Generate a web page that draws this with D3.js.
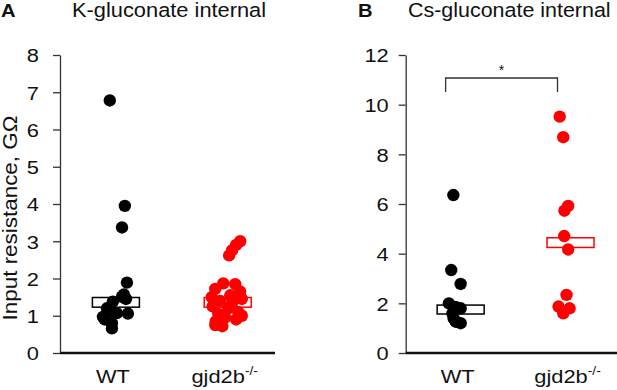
<!DOCTYPE html>
<html>
<head>
<meta charset="utf-8">
<script src="https://cdn.jsdelivr.net/npm/d3@7"></script>
<style>
body { margin: 0; background: #fff; }
text { font-family: "Liberation Sans", Arial, sans-serif; fill: #111; }
</style>
</head>
<body>
<div id="chart"></div>
<script>
// categories
var groups = ["WT", "gjd2b"];

// panel A, K-gluconate internal, input resistance in GΩ
var kWT = [6.78, 3.95, 3.37, 1.89, 1.57, 1.51, 1.45, 1.38, 1.2, 1.12, 1.07, 1.06, 0.97, 0.9, 0.8, 0.66];
var kWTJitter = [-0.26, 0.38, 0.26, 0.47, 0.34, 0.26, 0.43, -0.13, -0.38, -0.26, 0.04, 0.51, -0.55, -0.47, -0.17, -0.17];
var kKO = [3.0, 2.9, 2.76, 2.62, 1.87, 1.85, 1.72, 1.65, 1.55, 1.5, 1.45, 1.4, 1.35, 1.25, 1.2, 1.1, 1.05, 1.0, 0.95, 0.9, 0.85, 0.75, 0.72];
var kKOJitter = [0.53, 0.36, 0.19, 0.06, -0.19, 0.32, -0.53, 0.53, 0.11, -0.68, 0.6, -0.32, 0.19, -0.64, 0.02, 0.45, -0.4, 0.6, -0.11, 0.36, -0.51, -0.53, -0.23];
var kBoxLow = [1.23, 1.23];
var kBoxHigh = [1.49, 1.49];
var kTicks = [0, 1, 2, 3, 4, 5, 6, 7, 8];

// panel B, Cs-gluconate internal
var csWT = [6.36, 3.34, 2.78, 2.0, 1.85, 1.8, 1.6, 1.4, 1.26, 1.2];
var csWTJitter = [-0.31, -0.4, 0, -0.5, -0.21, 0, -0.35, -0.3, -0.21, 0];
var csKO = [9.52, 8.69, 5.92, 5.73, 4.71, 4.17, 2.34, 1.87, 1.8, 1.6];
var csKOJitter = [-0.46, -0.31, -0.1, -0.26, -0.27, -0.1, -0.17, -0.51, -0.04, -0.31];
var csBoxLow = [1.57, 4.25];
var csBoxHigh = [1.93, 4.64];
var csTicks = [0, 2, 4, 6, 8, 10, 12];

var W = 617, H = 390;
var S = 1.15; // lettering in the figure is wider than Arial
var colors = {WT: "#000", gjd2b: "#ff0000"};
var boxHalf = 23.5, dotR = 6.2;

var svg = d3.select("#chart").append("svg")
    .attr("width", W)
    .attr("height", H);

function wideText(parent, x, y, str, size, anchor, rot, sx) {
    var g = parent.append("g")
        .attr("transform", "translate(" + x + "," + y + ")" + (rot ? " rotate(" + rot + ")" : ""));
    return g.append("text")
        .attr("transform", "scale(" + (sx || S) + ",1)")
        .attr("text-anchor", anchor || "start")
        .attr("font-size", size + "px")
        .text(str);
}

function drawPanel(p) {
    var g = svg.append("g");
    var x = d3.scalePoint().domain(groups)
        .range([p.left + 0.26 * (p.right - p.left), p.left + 0.78 * (p.right - p.left)]);
    var y = d3.scaleLinear().domain([0, d3.max(p.ticks)]).range([p.bottom, p.top]);

    // letter + title
    wideText(g, p.letterX, 17, p.letter, 17.5).attr("font-weight", "bold");
    wideText(g, p.titleX, 17, p.title, 19.5, "start", 0, p.titleS);

    // y axis
    var ya = g.append("g")
        .attr("transform", "translate(" + p.left + ",0)")
        .call(d3.axisLeft(y).tickValues(p.ticks).tickSizeInner(7).tickSizeOuter(0).tickPadding(p.pad));
    ya.select(".domain").attr("stroke", "#333").attr("stroke-width", 1.3);
    ya.selectAll(".tick line").attr("stroke", "#333").attr("stroke-width", 1.3);
    ya.selectAll(".tick text")
        .attr("font-size", "19px")
        .attr("font-family", null)
        .attr("fill", "#111")
        .attr("dy", "0.36em")
        .each(function () {
            var t = d3.select(this), x0 = +t.attr("x");
            t.attr("x", 0).attr("transform", "translate(" + x0 + ",0) scale(" + S + ",1)");
        });

    // x axis (no ticks, heavy line)
    g.append("line")
        .attr("x1", p.left).attr("x2", p.right)
        .attr("y1", y(0)).attr("y2", y(0))
        .attr("stroke", "#111").attr("stroke-width", 2.6);

    // category labels
    groups.forEach(function (grp) {
        var t = wideText(g, x(grp) - 3, 383, "", 19, "middle");
        t.append("tspan").text(grp);
        if (grp !== "WT") {
            t.append("tspan").attr("font-size", "12px").attr("dy", "-0.65em").text("-/-");
        }
    });

    // boxes
    groups.forEach(function (grp, i) {
        g.append("rect")
            .attr("x", x(grp) - boxHalf)
            .attr("width", boxHalf * 2)
            .attr("y", y(p.boxHigh[i]))
            .attr("height", y(p.boxLow[i]) - y(p.boxHigh[i]))
            .attr("fill", "#fff")
            .attr("stroke", colors[grp])
            .attr("stroke-width", 1.5);
    });

    // dots
    var jx = d3.scaleLinear().domain([-1, 1]).range([-boxHalf, boxHalf]);
    [p.wt, p.ko].forEach(function (vals, i) {
        var grp = groups[i], jit = i === 0 ? p.wtJ : p.koJ;
        g.selectAll(".dot-" + grp)
            .data(vals)
            .enter().append("circle")
            .attr("class", "dot-" + grp)
            .attr("cx", function (d, k) { return x(grp) + jx(jit[k]); })
            .attr("cy", function (d) { return y(d); })
            .attr("r", dotR)
            .attr("fill", colors[grp]);
    });

    // significance bracket
    if (p.sig) {
        var bx1 = x(groups[0]) - 15, bx2 = x(groups[1]) - 13, by = 78;
        g.append("path")
            .attr("d", "M" + bx1 + "," + (by + 14) + "V" + by + "H" + bx2 + "V" + (by + 14))
            .attr("fill", "none")
            .attr("stroke", "#333")
            .attr("stroke-width", 1.3);
        g.append("text")
            .attr("x", (bx1 + bx2) / 2)
            .attr("y", by - 3)
            .attr("text-anchor", "middle")
            .attr("font-size", "14px")
            .text(p.sig);
    }
}

// shared y-axis title
wideText(svg, 17, 218, "Input resistance, GΩ", 19.5, "middle", -90);

drawPanel({
    letter: "A", letterX: 1, title: "K-gluconate internal", titleX: 72, titleS: 1.12,
    left: 60, right: 275, top: 55, bottom: 353, pad: 14,
    ticks: kTicks, wt: kWT, wtJ: kWTJitter, ko: kKO, koJ: kKOJitter,
    boxLow: kBoxLow, boxHigh: kBoxHigh
});

drawPanel({
    letter: "B", letterX: 358, title: "Cs-gluconate internal", titleX: 408, titleS: 1.1,
    left: 405.7, right: 617, top: 55, bottom: 353, pad: 10,
    ticks: csTicks, wt: csWT, wtJ: csWTJitter, ko: csKO, koJ: csKOJitter,
    boxLow: csBoxLow, boxHigh: csBoxHigh, sig: "*"
});
</script>
</body>
</html>
